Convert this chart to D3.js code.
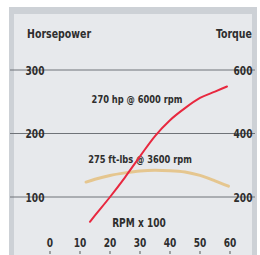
<!DOCTYPE html>
<html>
<head>
<meta charset="utf-8">
<script src="https://cdn.jsdelivr.net/npm/d3@7"></script>
<style>
  body { margin: 0; background: #fff; }
  text { font-family: "DejaVu Sans Condensed", sans-serif; fill: #2e2e2e; font-weight: bold; }
</style>
</head>
<body>
<script>
const width = 260;
const height = 255;

// engine curves
const hpRpm = [13.3, 15, 20, 25, 30, 35, 40, 45, 50, 55, 59];
const hpValues = [61, 71, 100, 131, 164, 196, 221, 240, 256, 266, 274];
const tqRpm = [12, 15, 20, 25, 30, 35, 40, 45, 50, 55, 59.5];
const tqValues = [247, 256, 268, 276, 282, 284, 283, 279, 268, 251, 234];

const rpmTicks = [0, 10, 20, 30, 40, 50, 60];
const hpTicks = [100, 200, 300];
const tqTicks = [200, 400, 600];

const squeeze = 0.84; // the original type is a narrow face

const svg = d3.select('body')
  .append('svg')
  .attr('width', width)
  .attr('height', height);

// frame
svg.append('rect')
  .attr('x', 9).attr('y', 7)
  .attr('width', 248).attr('height', 250)
  .attr('fill', '#cdd1d6');
svg.append('rect')
  .attr('x', 14).attr('y', 14)
  .attr('width', 238).attr('height', 243)
  .attr('fill', '#e7e9ec');

const x = d3.scaleLinear().domain([0, 60]).range([50, 230]);
const yHp = d3.scaleLinear().domain([0, 300]).range([260.5, 70]);
const yTq = d3.scaleLinear().domain([0, 600]).range([260.5, 70]);

const label = (g, tx, ty, size) => g
  .attr('transform', `translate(${tx},${ty}) scale(${squeeze},1)`)
  .style('font-size', `${size}px`);

// gridlines
svg.append('g')
  .selectAll('line')
  .data(hpTicks)
  .join('line')
  .attr('x1', 10)
  .attr('x2', 255)
  .attr('y1', (d) => yHp(d))
  .attr('y2', (d) => yHp(d))
  .attr('stroke', '#6f7378')
  .attr('stroke-width', 1);

// left and right tick labels
svg.append('g')
  .selectAll('text')
  .data(hpTicks)
  .join('text')
  .attr('text-anchor', 'middle')
  .attr('transform', (d) => `translate(35,${yHp(d) + 4.5}) scale(${squeeze},1)`)
  .style('font-size', '12px')
  .text((d) => d);

svg.append('g')
  .selectAll('text')
  .data(tqTicks)
  .join('text')
  .attr('text-anchor', 'middle')
  .attr('transform', (d) => `translate(243,${yTq(d) + 4.5}) scale(${squeeze},1)`)
  .style('font-size', '12px')
  .text((d) => d);

// x axis labels and small ticks
svg.append('g')
  .selectAll('text')
  .data(rpmTicks)
  .join('text')
  .attr('text-anchor', 'middle')
  .attr('transform', (d) => `translate(${x(d)},246.5) scale(${squeeze},1)`)
  .style('font-size', '12px')
  .text((d) => d);

svg.append('g')
  .selectAll('line')
  .data(rpmTicks)
  .join('line')
  .attr('x1', (d) => x(d))
  .attr('x2', (d) => x(d))
  .attr('y1', 251)
  .attr('y2', 254)
  .attr('stroke', '#555')
  .attr('stroke-width', 1);

// axis titles
label(svg.append('text'), 27, 37.5, 12.5).text('Horsepower');
label(svg.append('text'), 252, 37.5, 12.5).attr('text-anchor', 'end').text('Torque');
label(svg.append('text'), 139, 226.5, 12).attr('text-anchor', 'middle').text('RPM x 100');

// torque curve
const tqLine = d3.line()
  .x((d, i) => x(tqRpm[i]))
  .y((d) => yTq(d))
  .curve(d3.curveMonotoneX);
svg.append('path')
  .attr('d', tqLine(tqValues))
  .attr('fill', 'none')
  .attr('stroke', '#e5c68f')
  .attr('stroke-width', 3)
  .attr('stroke-linecap', 'round');

// curve labels
label(svg.append('text'), 140, 162.5, 11).attr('text-anchor', 'middle').text('275 ft-lbs @ 3600 rpm');
label(svg.append('text'), 137, 102.5, 11).attr('text-anchor', 'middle').text('270 hp @ 6000 rpm');

// horsepower curve
const hpLine = d3.line()
  .x((d, i) => x(hpRpm[i]))
  .y((d) => yHp(d))
  .curve(d3.curveMonotoneX);
svg.append('path')
  .attr('d', hpLine(hpValues))
  .attr('fill', 'none')
  .attr('stroke', '#e8283f')
  .attr('stroke-width', 2)
  .attr('stroke-linecap', 'round');
</script>
</body>
</html>
